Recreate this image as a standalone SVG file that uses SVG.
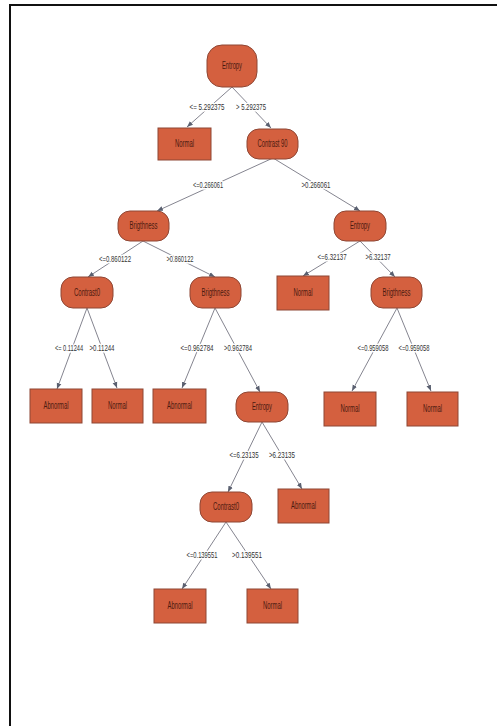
<svg xmlns="http://www.w3.org/2000/svg" width="497" height="726" viewBox="0 0 497 726">
<style>
.n{fill:#d4603f;stroke:#8e4634;stroke-width:1}
.t{font-family:"Liberation Sans",Arial,sans-serif;font-size:10px;fill:#4a1a10;text-anchor:middle}
.e{stroke:#858590;stroke-width:1;fill:none;marker-end:url(#ah)}
.l{font-family:"Liberation Sans",Arial,sans-serif;font-size:7px;fill:#333;text-anchor:middle;stroke:#fff;stroke-width:2.4;paint-order:stroke;stroke-linejoin:round}
</style>
<defs>
<marker id="ah" viewBox="0 0 10 10" refX="10" refY="5" markerWidth="6" markerHeight="6" orient="auto" markerUnits="userSpaceOnUse">
<path d="M0,1 L10,5 L0,9 z" fill="#5a6070"/>
</marker>
</defs>
<rect width="497" height="726" fill="#fff"/>
<path d="M10,726 V5 H497" fill="none" stroke="#111" stroke-width="2"/>
<g id="connectors">
<line class="e" x1="232" y1="87" x2="187" y2="127"/>
<line class="e" x1="232" y1="87" x2="271" y2="128"/>
<line class="e" x1="273" y1="158" x2="157" y2="211"/>
<line class="e" x1="273" y1="158" x2="360" y2="211"/>
<line class="e" x1="143" y1="241" x2="88" y2="277"/>
<line class="e" x1="143" y1="241" x2="215" y2="277"/>
<line class="e" x1="360" y1="241" x2="303" y2="276"/>
<line class="e" x1="360" y1="241" x2="395" y2="277"/>
<line class="e" x1="87" y1="308" x2="57" y2="389"/>
<line class="e" x1="87" y1="308" x2="117" y2="388"/>
<line class="e" x1="215" y1="308" x2="182" y2="388"/>
<line class="e" x1="215" y1="308" x2="260" y2="392"/>
<line class="e" x1="397" y1="308" x2="352" y2="391"/>
<line class="e" x1="397" y1="308" x2="431" y2="391"/>
<line class="e" x1="262" y1="422" x2="228" y2="492"/>
<line class="e" x1="262" y1="422" x2="302" y2="489"/>
<line class="e" x1="226" y1="522" x2="182" y2="589"/>
<line class="e" x1="226" y1="522" x2="271" y2="589"/>
<text class="l" transform="translate(207,110) scale(1,1.35)" textLength="35" lengthAdjust="spacingAndGlyphs">&lt;= 5.292375</text>
<text class="l" transform="translate(251,110) scale(1,1.35)" textLength="30" lengthAdjust="spacingAndGlyphs">&gt; 5.292375</text>
<text class="l" transform="translate(208,188) scale(1,1.35)" textLength="30" lengthAdjust="spacingAndGlyphs">&lt;=0.266061</text>
<text class="l" transform="translate(316,188) scale(1,1.35)" textLength="29" lengthAdjust="spacingAndGlyphs">&gt;0.266061</text>
<text class="l" transform="translate(115,262) scale(1,1.35)" textLength="32" lengthAdjust="spacingAndGlyphs">&lt;=0.860122</text>
<text class="l" transform="translate(180,262) scale(1,1.35)" textLength="27" lengthAdjust="spacingAndGlyphs">&gt;0.860122</text>
<text class="l" transform="translate(332,260) scale(1,1.35)" textLength="29" lengthAdjust="spacingAndGlyphs">&lt;=6.32137</text>
<text class="l" transform="translate(378,260) scale(1,1.35)" textLength="25" lengthAdjust="spacingAndGlyphs">&gt;6.32137</text>
<text class="l" transform="translate(69,351) scale(1,1.35)" textLength="28" lengthAdjust="spacingAndGlyphs">&lt;= 0.11244</text>
<text class="l" transform="translate(102,351) scale(1,1.35)" textLength="25" lengthAdjust="spacingAndGlyphs">&gt;0.11244</text>
<text class="l" transform="translate(197,351) scale(1,1.35)" textLength="33" lengthAdjust="spacingAndGlyphs">&lt;=0.962784</text>
<text class="l" transform="translate(238,351) scale(1,1.35)" textLength="28" lengthAdjust="spacingAndGlyphs">&gt;0.962784</text>
<text class="l" transform="translate(373,351) scale(1,1.35)" textLength="31" lengthAdjust="spacingAndGlyphs">&lt;=0.959058</text>
<text class="l" transform="translate(414,351) scale(1,1.35)" textLength="31" lengthAdjust="spacingAndGlyphs">&lt;=0.959058</text>
<text class="l" transform="translate(244,458) scale(1,1.35)" textLength="29" lengthAdjust="spacingAndGlyphs">&lt;=6.23135</text>
<text class="l" transform="translate(282,458) scale(1,1.35)" textLength="26" lengthAdjust="spacingAndGlyphs">&gt;6.23135</text>
<text class="l" transform="translate(202,558) scale(1,1.35)" textLength="31" lengthAdjust="spacingAndGlyphs">&lt;=0.139551</text>
<text class="l" transform="translate(247,558) scale(1,1.35)" textLength="30" lengthAdjust="spacingAndGlyphs">&gt;0.139551</text>
</g>
<g id="root"><rect class="n" x="207" y="45" width="50" height="42" rx="15"/><text class="t" x="232" y="69" textLength="20" lengthAdjust="spacingAndGlyphs">Entropy</text></g>
<g id="normal1"><rect class="n" x="158" y="128" width="53" height="32"/><text class="t" x="184.5" y="147" textLength="19" lengthAdjust="spacingAndGlyphs">Normal</text></g>
<g id="contrast90"><rect class="n" x="247" y="129" width="51" height="30" rx="12"/><text class="t" x="272.5" y="147" textLength="30" lengthAdjust="spacingAndGlyphs">Contrast 90</text></g>
<g id="brig1"><rect class="n" x="118" y="211" width="51" height="30" rx="12"/><text class="t" x="143.5" y="229" textLength="28" lengthAdjust="spacingAndGlyphs">Brigthness</text></g>
<g id="entropy2"><rect class="n" x="334" y="211" width="52" height="30" rx="12"/><text class="t" x="360" y="229" textLength="20" lengthAdjust="spacingAndGlyphs">Entropy</text></g>
<g id="contrast0a"><rect class="n" x="61" y="277" width="52" height="31" rx="12"/><text class="t" x="87" y="296" textLength="26" lengthAdjust="spacingAndGlyphs">Contrast0</text></g>
<g id="brig2"><rect class="n" x="190" y="277" width="51" height="31" rx="12"/><text class="t" x="215.5" y="296" textLength="28" lengthAdjust="spacingAndGlyphs">Brigthness</text></g>
<g id="normal2"><rect class="n" x="277" y="276" width="52" height="34"/><text class="t" x="303" y="296" textLength="19" lengthAdjust="spacingAndGlyphs">Normal</text></g>
<g id="brig3"><rect class="n" x="371" y="277" width="51" height="31" rx="12"/><text class="t" x="396.5" y="296" textLength="28" lengthAdjust="spacingAndGlyphs">Brigthness</text></g>
<g id="abnormal1"><rect class="n" x="30" y="389" width="52" height="34"/><text class="t" x="56" y="409" textLength="25" lengthAdjust="spacingAndGlyphs">Abnormal</text></g>
<g id="normal3"><rect class="n" x="92" y="389" width="51" height="34"/><text class="t" x="117.5" y="409" textLength="19" lengthAdjust="spacingAndGlyphs">Normal</text></g>
<g id="abnormal2"><rect class="n" x="153" y="389" width="53" height="34"/><text class="t" x="179.5" y="409" textLength="25" lengthAdjust="spacingAndGlyphs">Abnormal</text></g>
<g id="entropy3"><rect class="n" x="236" y="392" width="52" height="30" rx="12"/><text class="t" x="262" y="410" textLength="20" lengthAdjust="spacingAndGlyphs">Entropy</text></g>
<g id="normal4"><rect class="n" x="324" y="392" width="52" height="34"/><text class="t" x="350" y="412" textLength="19" lengthAdjust="spacingAndGlyphs">Normal</text></g>
<g id="normal5"><rect class="n" x="407" y="392" width="51" height="34"/><text class="t" x="432.5" y="412" textLength="19" lengthAdjust="spacingAndGlyphs">Normal</text></g>
<g id="contrast0b"><rect class="n" x="200" y="492" width="52" height="30" rx="12"/><text class="t" x="226" y="510" textLength="26" lengthAdjust="spacingAndGlyphs">Contrast0</text></g>
<g id="abnormal3"><rect class="n" x="278" y="489" width="51" height="34"/><text class="t" x="303.5" y="509" textLength="25" lengthAdjust="spacingAndGlyphs">Abnormal</text></g>
<g id="abnormal4"><rect class="n" x="154" y="589" width="52" height="34"/><text class="t" x="180" y="609" textLength="25" lengthAdjust="spacingAndGlyphs">Abnormal</text></g>
<g id="normal6"><rect class="n" x="247" y="589" width="51" height="34"/><text class="t" x="272.5" y="609" textLength="19" lengthAdjust="spacingAndGlyphs">Normal</text></g>
</svg>
